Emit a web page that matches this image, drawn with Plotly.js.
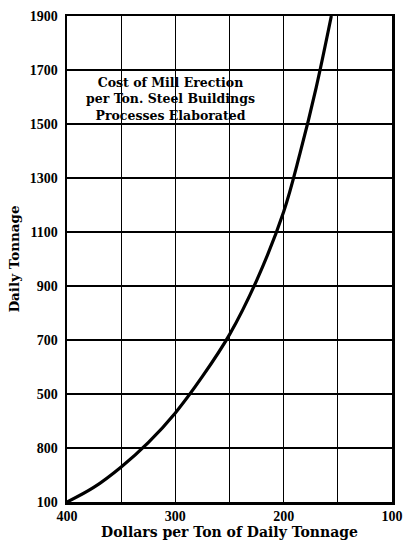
<!DOCTYPE html>
<html>
<head>
<meta charset="utf-8">
<script src="https://cdn.plot.ly/plotly-3.0.1.min.js"></script>
<style>html,body{margin:0;padding:0;background:#fff;}#chart{width:403px;height:541px;}</style>
</head>
<body>
<div id="chart"></div>
<script>
// Data
var costPerTon = [400, 375, 350, 325, 300, 275, 250, 225, 200, 185, 170, 156];
var dailyTonnage = [100, 155, 230, 320, 430, 565, 720, 920, 1175, 1390, 1635, 1900];
var xTickVals = [400, 350, 300, 250, 200, 150, 100];
var xTickText = ['400', '', '300', '', '200', '', '100'];
var yTickVals = [100, 300, 500, 700, 900, 1100, 1300, 1500, 1700, 1900];
var yTickText = ['100', '800', '500', '700', '900', '1100', '1300', '1500', '1700', '1900'];

var tickFont = 'Liberation Serif, serif';
var titleFont = 'DejaVu Serif, serif';

var trace = {
  x: costPerTon,
  y: dailyTonnage,
  type: 'scatter',
  mode: 'lines',
  line: {color: '#000', width: 3.2, shape: 'spline', smoothing: 1},
  hoverinfo: 'none'
};

var layout = {
  width: 403, height: 541,
  margin: {l: 67, r: 11, t: 16, b: 39},
  paper_bgcolor: '#fff', plot_bgcolor: '#fff',
  showlegend: false,
  font: {family: titleFont, color: '#000'},
  xaxis: {
    range: [400, 100],
    tickmode: 'array', tickvals: xTickVals, ticktext: xTickText,
    showgrid: true, gridcolor: '#000', gridwidth: 1.3,
    showline: true, linecolor: '#000', linewidth: 2.5, mirror: true,
    zeroline: false, ticks: '',
    tickfont: {family: tickFont, size: 14, color: '#000', weight: 'bold'},
    ticklabelstandoff: 0,
    title: {text: '<b>Dollars per Ton of Daily Tonnage</b>', font: {family: titleFont, size: 14, color: '#000'}, standoff: 1}
  },
  yaxis: {
    range: [100, 1900],
    tickmode: 'array', tickvals: yTickVals, ticktext: yTickText,
    showgrid: true, gridcolor: '#000', gridwidth: 1.3,
    showline: true, linecolor: '#000', linewidth: 2.5, mirror: true,
    zeroline: false, ticks: '',
    tickfont: {family: tickFont, size: 14, color: '#000', weight: 'bold'},
    ticklabelstandoff: 4,
    title: {text: '<b>Daily Tonnage</b>', font: {family: titleFont, size: 13.5, color: '#000'}, standoff: 7}
  },
  annotations: [{
    xref: 'paper', yref: 'paper',
    x: 0.318, y: 0.829, xanchor: 'center', yanchor: 'middle',
    text: '<b>Cost of Mill Erection<br>per Ton. Steel Buildings<br>Processes Elaborated</b>',
    showarrow: false, align: 'center',
    font: {family: titleFont, size: 12.5, color: '#000'}
  }]
};

Plotly.newPlot('chart', [trace], layout, {displayModeBar: false, staticPlot: true});
</script>
</body>
</html>
